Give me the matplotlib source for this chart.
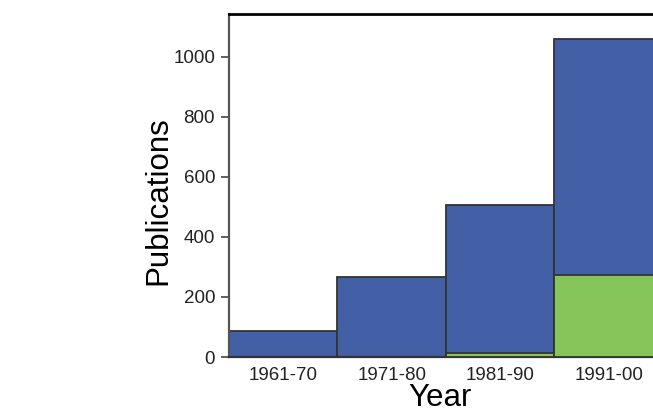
import matplotlib
matplotlib.use("Agg")
import matplotlib.pyplot as plt
import numpy as np

decades = ["1961-70", "1971-80", "1981-90", "1991-00"]
total = [87, 267, 507, 1060]
subset = [0, 0, 14, 273]

_BLUE, _GREEN, _EDGE = "#4360a7", "#85c55a", "#333333"

plt.rcParams["font.family"] = ["Liberation Sans", "DejaVu Sans"]

fig = plt.figure(figsize=(6.53, 4.12), dpi=100)
ax = fig.add_axes([229 / 653, 55 / 412, 434 / 653, 343 / 412])

x = np.arange(len(decades))
ax.bar(x, total, 1.0, color=_BLUE, edgecolor=_EDGE, lw=1.3, zorder=2)
ax.bar(x, subset, 1.0, color=_GREEN, edgecolor=_EDGE, lw=1.3, zorder=3)

ax.set_xlim(-0.5, 3.5)
ax.set_ylim(0, 1143)
ax.set_yticks(range(0, 1001, 200))
ax.set_xticks(x)
ax.set_xticklabels(decades)
ax.tick_params(axis="x", length=0, pad=7.5, labelsize=13.5, colors="#222222")
ax.tick_params(axis="y", length=6, width=1.2, pad=4, labelsize=13.5,
               colors="#222222", color="#444444")
ax.set_ylabel("Publications", fontsize=22.5)
ax.yaxis.set_label_coords(-0.128, 0.455)
ax.set_xlabel("Year", fontsize=22.5, va="top")
ax.xaxis.set_label_coords(0.486, -0.076)

ax.spines["right"].set_visible(False)
ax.spines["top"].set_linewidth(2)
ax.spines["top"].set_color("black")
ax.spines["left"].set_linewidth(1.6)
ax.spines["left"].set_color("#555555")
ax.spines["bottom"].set_linewidth(1.6)
ax.spines["bottom"].set_color("#333333")

fig.savefig("out.png", dpi=100)
